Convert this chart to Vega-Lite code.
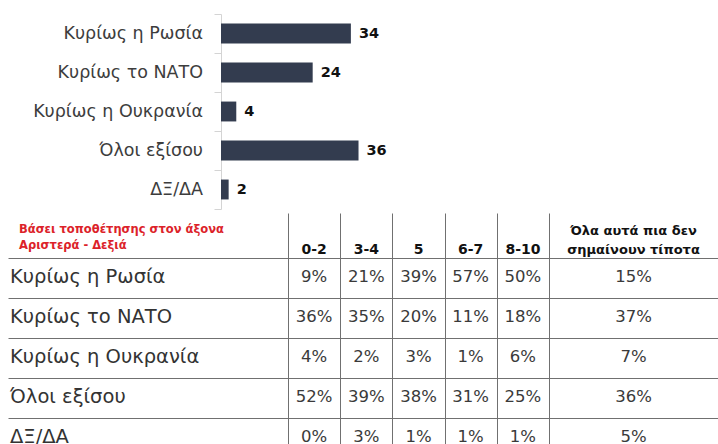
{
  "$schema": "https://vega.github.io/schema/vega-lite/v6.json",
  "background": "white",
  "padding": {"left": 8, "top": 13, "right": 0, "bottom": 0},
  "spacing": 3,
  "config": {"view": {"stroke": null}, "font": "DejaVu Sans", "text": {"font": "DejaVu Sans"}},
  "datasets": {
    "bars": [
      {"cat": "Κυρίως η Ρωσία", "v": 34},
      {"cat": "Κυρίως το ΝΑΤΟ", "v": 24},
      {"cat": "Κυρίως η Ουκρανία", "v": 4},
      {"cat": "Όλοι εξίσου", "v": 36},
      {"cat": "ΔΞ/ΔΑ", "v": 2}
    ],
    "rowlabels": [
      {"row": "header", "col": "label", "text": "Βάσει τοποθέτησης στον άξονα\nΑριστερά - Δεξιά"},
      {"row": "Κυρίως η Ρωσία", "col": "label", "text": "Κυρίως η Ρωσία"},
      {"row": "Κυρίως το ΝΑΤΟ", "col": "label", "text": "Κυρίως το ΝΑΤΟ"},
      {"row": "Κυρίως η Ουκρανία", "col": "label", "text": "Κυρίως η Ουκρανία"},
      {"row": "Όλοι εξίσου", "col": "label", "text": "Όλοι εξίσου"},
      {"row": "ΔΞ/ΔΑ", "col": "label", "text": "ΔΞ/ΔΑ"}
    ],
    "headers": [
      {"row": "header", "col": "0-2", "text": "0-2"},
      {"row": "header", "col": "3-4", "text": "3-4"},
      {"row": "header", "col": "5", "text": "5"},
      {"row": "header", "col": "6-7", "text": "6-7"},
      {"row": "header", "col": "8-10", "text": "8-10"},
      {"row": "header", "col": "all", "text": "Όλα αυτά πια δεν\nσημαίνουν τίποτα"}
    ],
    "table": [
      {"row": "Κυρίως η Ρωσία", "col": "0-2", "pct": 0.09},
      {"row": "Κυρίως η Ρωσία", "col": "3-4", "pct": 0.21},
      {"row": "Κυρίως η Ρωσία", "col": "5", "pct": 0.39},
      {"row": "Κυρίως η Ρωσία", "col": "6-7", "pct": 0.57},
      {"row": "Κυρίως η Ρωσία", "col": "8-10", "pct": 0.50},
      {"row": "Κυρίως η Ρωσία", "col": "all", "pct": 0.15},
      {"row": "Κυρίως το ΝΑΤΟ", "col": "0-2", "pct": 0.36},
      {"row": "Κυρίως το ΝΑΤΟ", "col": "3-4", "pct": 0.35},
      {"row": "Κυρίως το ΝΑΤΟ", "col": "5", "pct": 0.20},
      {"row": "Κυρίως το ΝΑΤΟ", "col": "6-7", "pct": 0.11},
      {"row": "Κυρίως το ΝΑΤΟ", "col": "8-10", "pct": 0.18},
      {"row": "Κυρίως το ΝΑΤΟ", "col": "all", "pct": 0.37},
      {"row": "Κυρίως η Ουκρανία", "col": "0-2", "pct": 0.04},
      {"row": "Κυρίως η Ουκρανία", "col": "3-4", "pct": 0.02},
      {"row": "Κυρίως η Ουκρανία", "col": "5", "pct": 0.03},
      {"row": "Κυρίως η Ουκρανία", "col": "6-7", "pct": 0.01},
      {"row": "Κυρίως η Ουκρανία", "col": "8-10", "pct": 0.06},
      {"row": "Κυρίως η Ουκρανία", "col": "all", "pct": 0.07},
      {"row": "Όλοι εξίσου", "col": "0-2", "pct": 0.52},
      {"row": "Όλοι εξίσου", "col": "3-4", "pct": 0.39},
      {"row": "Όλοι εξίσου", "col": "5", "pct": 0.38},
      {"row": "Όλοι εξίσου", "col": "6-7", "pct": 0.31},
      {"row": "Όλοι εξίσου", "col": "8-10", "pct": 0.25},
      {"row": "Όλοι εξίσου", "col": "all", "pct": 0.36},
      {"row": "ΔΞ/ΔΑ", "col": "0-2", "pct": 0.00},
      {"row": "ΔΞ/ΔΑ", "col": "3-4", "pct": 0.03},
      {"row": "ΔΞ/ΔΑ", "col": "5", "pct": 0.01},
      {"row": "ΔΞ/ΔΑ", "col": "6-7", "pct": 0.01},
      {"row": "ΔΞ/ΔΑ", "col": "8-10", "pct": 0.01},
      {"row": "ΔΞ/ΔΑ", "col": "all", "pct": 0.05}
    ]
  },
  "vconcat": [
    {
      "spacing": 0,
      "bounds": "flush",
      "hconcat": [
        {
          "data": {"name": "bars"},
          "width": 213,
          "height": 195,
          "mark": {"type": "text", "align": "right", "dx": -18, "fontSize": 17.5, "color": "#3d3d3d"},
          "encoding": {
            "y": {"field": "cat", "type": "nominal", "sort": null, "scale": {"paddingInner": 0, "paddingOuter": 0}, "axis": null},
            "x": {"datum": "label", "type": "nominal", "scale": {"type": "point", "padding": 0, "align": 1}, "axis": null},
            "text": {"field": "cat"}
          }
        },
        {
          "data": {"name": "bars"},
          "width": 191,
          "height": 195,
          "encoding": {
            "y": {
              "field": "cat", "type": "nominal", "sort": null,
              "scale": {"paddingInner": 0, "paddingOuter": 0},
              "axis": {
                "title": null, "labels": false, "tickBand": "extent", "tickSize": 7,
                "tickColor": "#d4d4d4", "domainColor": "#d4d4d4"
              }
            },
            "x": {"field": "v", "type": "quantitative", "scale": {"domain": [0, 50]}, "axis": null}
          },
          "layer": [
            {"mark": {"type": "bar", "color": "#333c4f", "height": {"band": 0.51}}},
            {
              "mark": {"type": "text", "align": "left", "dx": 8, "fontWeight": "bold", "fontSize": 14.5, "color": "#111111"},
              "encoding": {"text": {"field": "v", "type": "quantitative"}}
            }
          ]
        }
      ]
    },
    {
      "spacing": 0,
      "bounds": "flush",
      "hconcat": [
        {
          "data": {"name": "rowlabels"},
          "width": 280,
          "height": 245,
          "encoding": {
            "y": {
              "field": "row", "type": "nominal",
              "scale": {"domain": ["header", "Κυρίως η Ρωσία", "Κυρίως το ΝΑΤΟ", "Κυρίως η Ουκρανία", "Όλοι εξίσου", "ΔΞ/ΔΑ"], "paddingInner": 0, "paddingOuter": 0.0625, "align": 1},
              "axis": {
                "title": null, "labels": false, "ticks": false, "domain": false,
                "grid": true, "tickBand": "extent", "gridColor": "#707070",
                "gridOpacity": {"condition": {"test": "!isValid(datum.value) || datum.index < 0", "value": 0}, "value": 1}
              }
            },
            "x": {"field": "col", "type": "nominal", "scale": {"type": "point", "padding": 0, "align": 0}, "axis": null}
          },
          "layer": [
            {
              "transform": [{"filter": "datum.row !== 'header'"}],
              "mark": {"type": "text", "align": "left", "dx": 2, "dy": -1, "fontSize": 19.5, "color": "#333333"},
              "encoding": {"text": {"field": "text"}}
            },
            {
              "transform": [{"filter": "datum.row === 'header'"}],
              "mark": {"type": "text", "align": "left", "dx": 11, "dy": -8, "fontSize": 11.5, "fontWeight": "bold", "color": "#dc2229", "lineBreak": "\n", "lineHeight": 16},
              "encoding": {"text": {"field": "text"}}
            }
          ]
        },
        {
          "width": 261,
          "height": 245,
          "encoding": {
            "y": {
              "field": "row", "type": "nominal",
              "scale": {"domain": ["header", "Κυρίως η Ρωσία", "Κυρίως το ΝΑΤΟ", "Κυρίως η Ουκρανία", "Όλοι εξίσου", "ΔΞ/ΔΑ"], "paddingInner": 0, "paddingOuter": 0.0625, "align": 1},
              "axis": {
                "title": null, "labels": false, "ticks": false, "domain": false,
                "grid": true, "tickBand": "extent", "gridColor": "#707070",
                "gridOpacity": {"condition": {"test": "!isValid(datum.value) || datum.index < 0", "value": 0}, "value": 1}
              }
            },
            "x": {
              "field": "col", "type": "nominal", "sort": ["0-2", "3-4", "5", "6-7", "8-10"],
              "scale": {"domain": ["0-2", "3-4", "5", "6-7", "8-10"], "paddingInner": 0, "paddingOuter": 0},
              "axis": {"title": null, "labels": false, "ticks": false, "domain": false, "grid": true, "tickBand": "extent", "gridColor": "#707070"}
            }
          },
          "layer": [
            {
              "data": {"name": "table"},
              "transform": [{"filter": "datum.col !== 'all'"}],
              "mark": {"type": "text", "fontSize": 16.5, "dy": -1, "color": "#3a3a3a"},
              "encoding": {"text": {"field": "pct", "type": "quantitative", "format": ".0%"}}
            },
            {
              "data": {"name": "headers"},
              "transform": [{"filter": "datum.col !== 'all'"}],
              "mark": {"type": "text", "fontSize": 14, "fontWeight": "bold", "color": "#111111", "baseline": "alphabetic", "dy": 16},
              "encoding": {"text": {"field": "text"}}
            }
          ]
        },
        {
          "width": 169,
          "height": 245,
          "encoding": {
            "y": {
              "field": "row", "type": "nominal",
              "scale": {"domain": ["header", "Κυρίως η Ρωσία", "Κυρίως το ΝΑΤΟ", "Κυρίως η Ουκρανία", "Όλοι εξίσου", "ΔΞ/ΔΑ"], "paddingInner": 0, "paddingOuter": 0.0625, "align": 1},
              "axis": {
                "title": null, "labels": false, "ticks": false, "domain": false,
                "grid": true, "tickBand": "extent", "gridColor": "#707070",
                "gridOpacity": {"condition": {"test": "!isValid(datum.value) || datum.index < 0", "value": 0}, "value": 1}
              }
            },
            "x": {
              "field": "col", "type": "nominal",
              "scale": {"domain": ["all"], "paddingInner": 0, "paddingOuter": 0},
              "axis": null
            }
          },
          "layer": [
            {
              "data": {"name": "table"},
              "transform": [{"filter": "datum.col === 'all'"}],
              "mark": {"type": "text", "fontSize": 16.5, "dy": -1, "color": "#3a3a3a"},
              "encoding": {"text": {"field": "pct", "type": "quantitative", "format": ".0%"}}
            },
            {
              "data": {"name": "headers"},
              "transform": [{"filter": "datum.col === 'all'"}],
              "mark": {"type": "text", "fontSize": 13, "fontWeight": "bold", "color": "#111111", "baseline": "alphabetic", "dy": -3, "lineBreak": "\n", "lineHeight": 19},
              "encoding": {"text": {"field": "text"}}
            }
          ]
        }
      ]
    }
  ]
}
